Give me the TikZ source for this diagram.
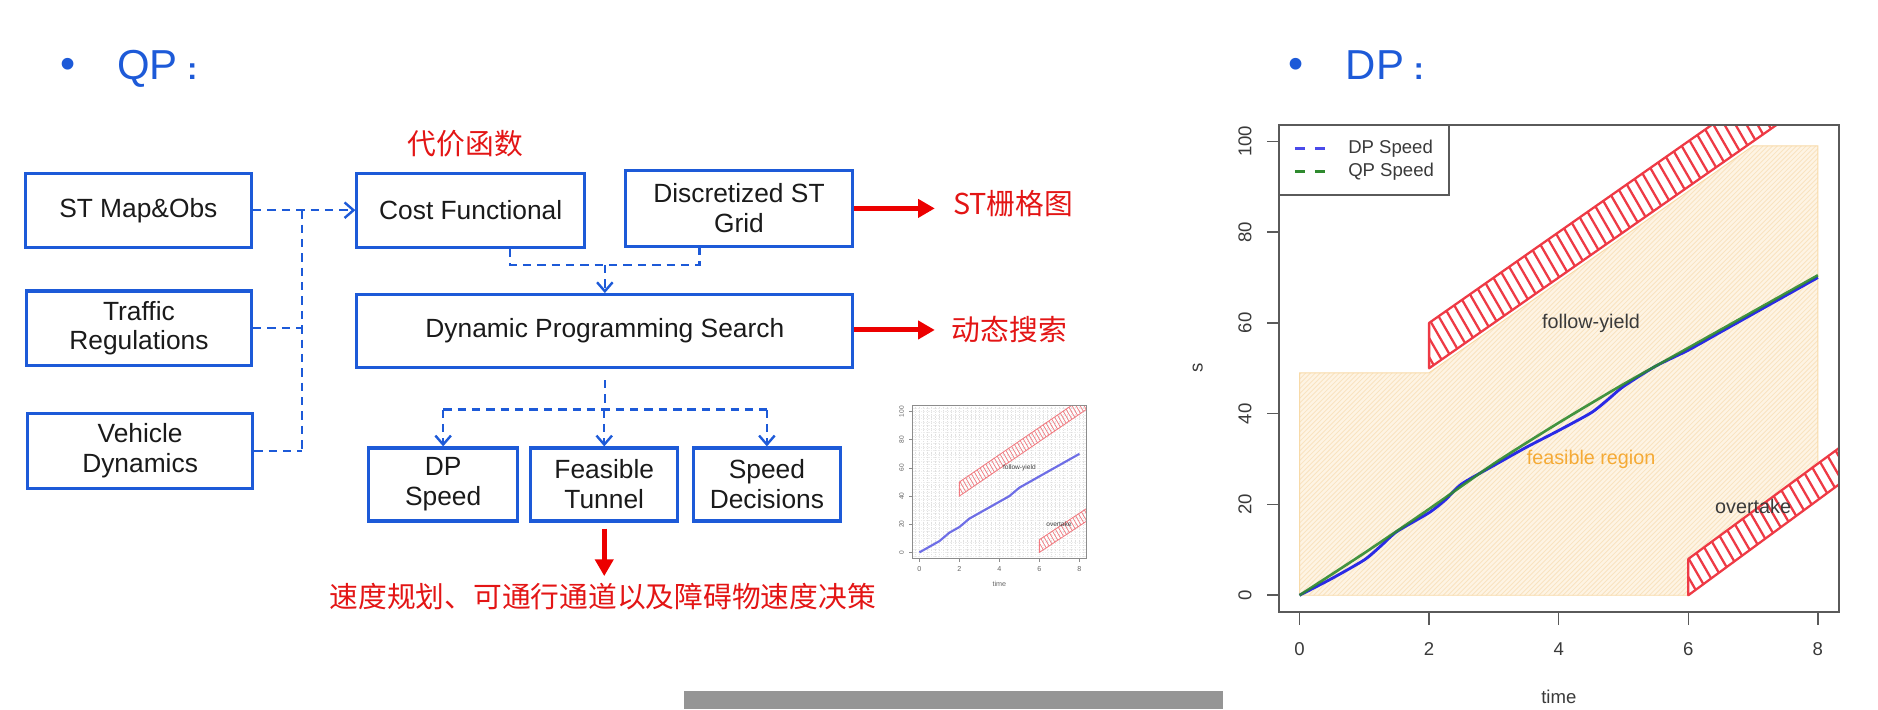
\documentclass[tikz,border=0pt]{standalone}
\usepackage{fontspec}
\setmainfont{Liberation Sans}
\newfontfamily\cjk{Noto Sans CJK SC}
\usetikzlibrary{arrows.meta}

\definecolor{qblue}{HTML}{1D5AD8}
\definecolor{qred}{HTML}{EC0000}
\definecolor{txtred}{HTML}{E31515}
\definecolor{boxtext}{HTML}{1A1A1A}
\definecolor{axisgray}{HTML}{5A5A5A}
\definecolor{labgray}{HTML}{3A3A3A}
\definecolor{feasfill}{HTML}{FEF4E4}
\definecolor{feashatch}{HTML}{F9E3C0}
\definecolor{feasedge}{HTML}{F8DAA8}
\definecolor{bandred}{HTML}{EE3A45}
\definecolor{dpblue}{HTML}{2A2AE6}
\definecolor{qpgreen}{HTML}{2F8A2F}
\definecolor{feaslabel}{HTML}{F5AA35}
\definecolor{thumbblue}{HTML}{6E6EE6}
\definecolor{thumbred}{HTML}{F07A80}
\definecolor{barg}{HTML}{959595}

\newcommand\fsz[2]{\fontsize{#1}{#2}\selectfont}

\tikzset{
  flowbox/.style={draw=qblue, line width=2.6pt, inner sep=0pt, align=center,
    text=boxtext, font=\fsz{22}{25}},
  dashlink/.style={draw=qblue, line width=2pt, dash pattern=on 7pt off 5pt},
  openhead/.style={-{Straight Barb[length=7.5pt,width=13pt]}},
  redarrow/.style={draw=qred, line width=4.2pt, -{Triangle[length=14pt,width=15pt]}},
  redlabel/.style={text=txtred, font=\cjk\fsz{24}{26}, inner sep=0pt},
  heading/.style={text=qblue, font=\fsz{35}{40}, inner sep=0pt, anchor=base west},
  bulletmark/.style={text=qblue, font=\fsz{36}{36}, inner sep=0pt, anchor=base},
  ticklab/.style={text=labgray, font=\fsz{15.5}{17}, inner sep=0pt},
  plotlab/.style={text=labgray, font=\fsz{16.5}{18}, inner sep=0pt},
  minilab/.style={text=black!60, font=\fsz{5.5}{6}, inner sep=0pt},
}

\begin{document}
\begin{tikzpicture}[x=1pt, y=-1pt]
\useasboundingbox (0,0) rectangle (1568,592);

% ---------- headings ----------
\node[bulletmark] (bq) at (56.6,65.5) {•};
\node[heading] (hq) at (97.5,66.5) {QP\kern8pt{\bfseries\fsz{26}{30}:}};
\node[bulletmark] (bd) at (1081.8,65.5) {•};
\node[heading] (hd) at (1123.5,66.5) {DP\kern8pt{\bfseries\fsz{26}{30}:}};

% ---------- flow chart ----------
\node[redlabel] (costcn) at (388.5,120) {代价函数};

\node[flowbox, minimum width=189pt, minimum height=62pt] (stmap)   at (115.5,175.5) {ST Map\&Obs};
\node[flowbox, minimum width=188pt, minimum height=62pt] (traffic) at (116,274)     {Traffic\\Regulations};
\node[flowbox, minimum width=188pt, minimum height=62pt] (vehicle) at (117,376.5)   {Vehicle\\Dynamics};
\node[flowbox, minimum width=190pt, minimum height=62pt] (cost)    at (393,175.5)   {Cost Functional};
\node[flowbox, minimum width=189pt, minimum height=63pt] (grid)    at (617,174)     {Discretized ST\\Grid};
\node[flowbox, minimum width=414pt, minimum height=61pt] (dps)     at (505,276.5)   {Dynamic Programming Search};
\node[flowbox, minimum width=124pt, minimum height=61pt] (dpspeed) at (370,404.5)   {DP\\Speed};
\node[flowbox, minimum width=123pt, minimum height=61pt] (tunnel)  at (504.5,404.5) {Feasible\\Tunnel};
\node[flowbox, minimum width=123pt, minimum height=61pt] (decide)  at (640.3,404.5) {Speed\\Decisions};

% inputs gathered on a vertical bus
\coordinate (jtop) at (252,175.5);
\coordinate (jbot) at (252,376.5);
\draw[dashlink, openhead] (stmap.east) -- (cost.west);
\draw[dashlink] (jtop) -- (jbot);
\draw[dashlink] (traffic.east) -- (traffic.east -| jtop);
\draw[dashlink] (vehicle.east) -- (jbot);

% cost + grid merge into the search
\coordinate (mL) at (426,221.3);
\coordinate (mR) at (584,221.3);
\coordinate (mC) at (505,221.3);
\draw[dashlink] (mL |- cost.south) -- (mL) -- (mR) -- (mR |- grid.south);
\draw[dashlink, openhead] (mC) -- (dps.north);

% search splits into three outputs
\coordinate (sC) at (505,342);
\draw[dashlink] ([yshift=-9pt]dps.south) -- (sC);
\draw[dashlink] (dpspeed.north |- sC) -- (decide.north |- sC);
\draw[dashlink, openhead] (dpspeed.north |- sC) -- (dpspeed.north);
\draw[dashlink, openhead] (tunnel.north |- sC) -- (tunnel.north);
\draw[dashlink, openhead] (decide.north |- sC) -- (decide.north);

% red annotations
\node[redlabel, anchor=west] (gridcn)   at (795.5,170)  {ST栅格图};
\node[redlabel, anchor=west] (searchcn) at (794.5,275.5) {动态搜索};
\draw[redarrow] (grid.east) -- ([xshift=-15pt]gridcn.west |- grid.east);
\draw[redarrow] (dps.east |- searchcn.west) -- ([xshift=-14pt]searchcn.west);
\node[redlabel] (plancn) at (503.3,498) {速度规划、可通行通道以及障碍物速度决策};
\coordinate (planTip) at (503.5,481);
\draw[redarrow] ([yshift=-5pt]tunnel.south) -- (tunnel.south |- planTip);

% ---------- small ST thumbnail ----------
\begin{scope}
  \clip (762,338.2) rectangle (907,466.2);
  \foreach \i in {0,...,44} \draw[black!12, line width=0.5pt, densely dotted] ({767.6+(\i-2)*3.34},338) -- ++(0,129);
  \foreach \i in {0,...,44} \draw[black!7, line width=0.4pt, densely dotted] (762,{461.2-(\i-3)*2.94}) -- ++(146,0);
  \begin{scope}[shift={(767.6,461.2)}, x=16.7pt, y=1.175pt]
    \begin{scope}
      \clip (2,40) -- (2,50) -- (12,147) -- (12,137) -- cycle
            (6,0) -- (6,9) -- (12,65.4) -- (12,56.4) -- cycle;
      \foreach \i in {0,...,48} \draw[thumbred, line width=0.6pt] ({-1+\i*0.2},110) -- ++(5,-123);
    \end{scope}
    \draw[thumbred, line width=0.7pt] (2,40) -- (2,50) -- (12,147) -- (12,137) -- cycle;
    \draw[thumbred, line width=0.7pt] (6,0) -- (6,9) -- (12,65.4) -- (12,56.4) -- cycle;
    \draw[thumbblue, line width=1.8pt, line join=round] plot coordinates
      {(0,0) (1,8) (1.5,14) (2,18) (2.5,24) (3,28) (4,36) (4.5,40) (5,46) (6,54) (7,62) (8,70)};
    \node[minilab, text=black!75] (tfy) at (5,60.4) {follow-yield};
    \node[minilab, text=black!75] (tov) at (6.98,19.9) {overtake};
  \end{scope}
\end{scope}
\draw[black!45, line width=0.9pt] (762,338.2) rectangle (907,466.2);
\foreach \t in {0,2,4,6,8} {
  \draw[black!45, line width=0.7pt] ({767.6+16.7*\t},466.2) -- ++(0,3);
  \node[minilab, font=\fsz{6}{7}] (tx\t) at ({767.6+16.7*\t},475) {\t};
}
\foreach \s in {0,20,40,60,80,100} {
  \draw[black!45, line width=0.7pt] (762,{461.2-1.175*\s}) -- ++(-3,0);
  \node[minilab, rotate=90] (ty\s) at (752.8,{461.2-1.175*\s}) {\s};
}
\node[minilab, font=\fsz{6}{7}] (ttime) at (834.4,487.9) {time};

% ---------- ST plot: DP vs QP speed ----------
\begin{scope}
  \clip (1068,104.5) rectangle (1535.4,511);
  \begin{scope}[shift={(1085,497)}, x=54.1pt, y=3.79pt]
    % feasible region
    \fill[feasfill] (0,0) -- (0,49) -- (2,49) -- (7,99) -- (8,99) -- (8,29) -- (6,8) -- (6,0) -- cycle;
    \begin{scope}
      \clip (0,0) -- (0,49) -- (2,49) -- (7,99) -- (8,99) -- (8,29) -- (6,8) -- (6,0) -- cycle;
      \foreach \i in {0,...,205} \draw[feashatch, line width=0.7pt] ({-7.1+\i*0.074},-2) -- ++(8,114.2);
    \end{scope}
    \draw[feasedge, line width=0.8pt] (0,0) -- (0,49) -- (2,49) -- (7,99) -- (8,99) -- (8,29) -- (6,8) -- (6,0) -- cycle;
    % obstacle bands
    \begin{scope}
      \clip (2,50) -- (2,60) -- (12,160) -- (12,150) -- cycle
            (6,0) -- (6,8) -- (12,71) -- (12,63) -- cycle;
      \foreach \i in {0,...,55} \draw[bandred, line width=1.9pt] ({-0.7+\i*0.17},115) -- ++(5,-123.6);
    \end{scope}
    \draw[bandred, line width=1.9pt, line join=round] (2,50) -- (2,60) -- (12,160) -- (12,150) -- cycle;
    \draw[bandred, line width=1.9pt, line join=round] (6,0) -- (6,8) -- (12,71) -- (12,63) -- cycle;
    % speed profiles
    \draw[dpblue, line width=2.4pt, line join=round] plot[smooth, tension=0.4] coordinates
      {(0,0) (0.5,3.7) (1,7.8) (1.25,10.8) (1.5,14) (2,18.2) (2.25,21) (2.5,24.5) (3,28.6) (3.5,32.6)
       (4,36.3) (4.5,40.2) (4.75,43) (5,46) (5.5,50.5) (6,54) (6.5,58) (7,62) (7.5,66) (8,70)};
    \draw[qpgreen, line width=2.2pt, opacity=0.9, line join=round] plot[smooth, tension=0.4] coordinates
      {(0,0) (1,9.3) (2,19) (3,29) (4,38) (5,46.5) (6,54.5) (7,62.5) (8,70.5)};
    \node[plotlab] (lfy) at (4.5,60) {follow-yield};
    \node[plotlab, text=feaslabel] (lfr) at (4.5,30) {feasible region};
    \node[plotlab] (lov) at (7,19.5) {overtake};
  \end{scope}
\end{scope}
\draw[axisgray, line width=1.5pt] (1068,104.5) rectangle (1535.4,511);
% legend
\draw[axisgray, line width=1.5pt, fill=white] (1068,104.5) rectangle (1210,162.8);
\draw[dpblue!85, line width=2.3pt, dash pattern=on 8.4pt off 8.3pt] (1081.2,123.8) -- (1106.3,123.8);
\draw[qpgreen, line width=2.3pt, dash pattern=on 8.4pt off 8.3pt] (1081.2,143.3) -- (1106.3,143.3);
\node[ticklab, anchor=west] (legdp) at (1125.5,124) {DP Speed};
\node[ticklab, anchor=west] (legqp) at (1125.5,143.5) {QP Speed};
% axes
\foreach \t in {0,2,4,6,8} {
  \draw[axisgray, line width=1.3pt] ({1085+54.1*\t},511) -- ++(0,11);
  \node[ticklab] (ax\t) at ({1085+54.1*\t},542) {\t};
}
\foreach \s in {0,20,40,60,80,100} {
  \draw[axisgray, line width=1.3pt] (1068,{497-3.79*\s}) -- ++(-10,0);
  \node[ticklab, rotate=90] (ay\s) at (1039.5,{497-3.79*\s}) {\s};
}
\node[ticklab] (xname) at (1301.5,582) {time};
\node[ticklab, rotate=90] (yname) at (1000,307) {s};

% ---------- lower edge strip ----------
\fill[barg] (571,577) rectangle (1021,592);
\end{tikzpicture}
\end{document}
